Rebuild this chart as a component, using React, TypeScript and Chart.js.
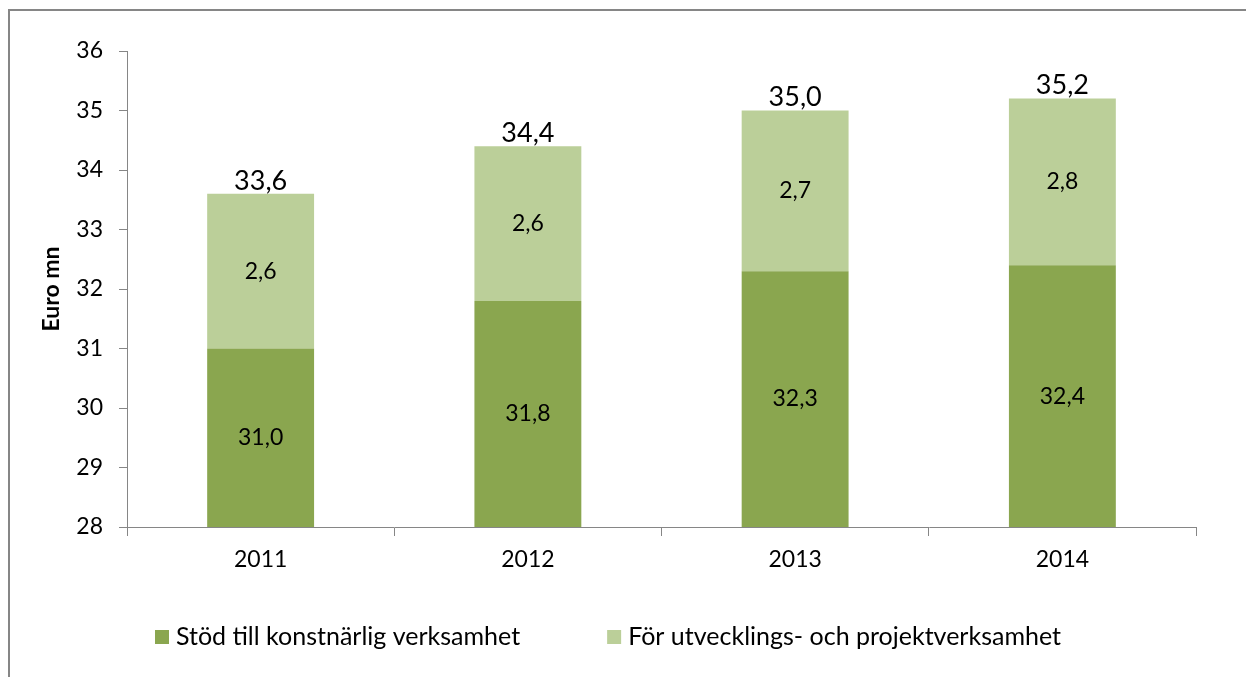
import React, { useEffect, useRef } from "react";
import { Chart, registerables } from "chart.js";

Chart.register(...registerables);

const categories = ["2011", "2012", "2013", "2014"];
const seriesNames = ["Stöd till konstnärlig verksamhet", "För utvecklings- och projektverksamhet"];
const stodValues = [31.0, 31.8, 32.3, 32.4];
const utvValues = [2.6, 2.6, 2.7, 2.8];
const yMin = 28;
const yMax = 36;
const yStep = 1;
const yTitle = "Euro mn";

const DARK = "#8aa64f";
const LIGHT = "#bbcf99";
const AXIS = "#868686";
const FONT = "Lato, 'Open Sans', sans-serif";

const fmt = (v: number) => v.toFixed(1).replace(".", ",");

const labelPlugin = {
  id: "labels",
  beforeDraw(chart: any) {
    const ctx = chart.ctx;
    ctx.save();
    ctx.strokeStyle = AXIS;
    ctx.lineWidth = 2;
    ctx.beginPath();
    ctx.moveTo(9, chart.height);
    ctx.lineTo(9, 10);
    ctx.lineTo(chart.width, 10);
    ctx.stroke();
    ctx.restore();
  },
  afterDatasetsDraw(chart: any) {
    const ctx = chart.ctx;
    const area = chart.chartArea;
    ctx.save();
    ctx.fillStyle = "#000";
    ctx.textAlign = "center";
    ctx.textBaseline = "middle";
    ctx.font = `23px ${FONT}`;
    chart.data.datasets.forEach((ds: any, di: number) => {
      const meta = chart.getDatasetMeta(di);
      meta.data.forEach((bar: any, i: number) => {
        const top = Math.max(bar.y, area.top);
        const bottom = Math.min(bar.base, area.bottom);
        ctx.fillText(fmt(ds.data[i]), bar.x, (top + bottom) / 2);
      });
    });
    // totals
    ctx.font = `27px ${FONT}`;
    const last = chart.getDatasetMeta(chart.data.datasets.length - 1);
    categories.forEach((_, i) => {
      const total = chart.data.datasets.reduce((s: number, ds: any) => s + ds.data[i], 0);
      const bar = last.data[i];
      ctx.fillText(fmt(total), bar.x, bar.y - 13);
    });
    // legend
    ctx.font = `25px ${FONT}`;
    ctx.textAlign = "left";
    const box = 14;
    const boxGap = 7;
    const itemGap = 87;
    const widths = chart.data.datasets.map((ds: any) => box + boxGap + ctx.measureText(ds.label).width);
    const total = widths.reduce((a: number, b: number) => a + b, 0) + itemGap * (widths.length - 1);
    let x = 608 - total / 2;
    const cy = 637;
    chart.data.datasets.forEach((ds: any, di: number) => {
      ctx.fillStyle = ds.backgroundColor;
      ctx.fillRect(x, cy - box / 2, box, box);
      ctx.fillStyle = "#000";
      ctx.fillText(ds.label, x + box + boxGap, cy);
      x += widths[di] + itemGap;
    });
    ctx.restore();
  },
};

export default function App() {
  const ref = useRef<HTMLCanvasElement | null>(null);
  useEffect(() => {
    if (!ref.current) return;
    const chart = new Chart(ref.current, {
      type: "bar",
      data: {
        labels: categories,
        datasets: [
          { label: seriesNames[0], data: stodValues, backgroundColor: DARK, barPercentage: 0.4, categoryPercentage: 1 },
          { label: seriesNames[1], data: utvValues, backgroundColor: LIGHT, barPercentage: 0.4, categoryPercentage: 1 },
        ],
      },
      options: {
        animation: false,
        responsive: false,
        layout: { padding: { left: 0, right: 50, top: 51, bottom: 100 } },
        plugins: { legend: { display: false }, tooltip: { enabled: false } },
        scales: {
          x: {
            stacked: true,
            grid: { drawOnChartArea: false, drawTicks: true, tickLength: 9, color: AXIS, offset: true },
            border: { color: AXIS, width: 1 },
            ticks: { color: "#000", font: { family: FONT, size: 23 }, padding: 10, autoSkip: false, maxRotation: 0 },
            afterFit: (s: any) => { s.height = 50; },
          },
          y: {
            stacked: true,
            min: yMin,
            max: yMax,
            grid: { drawOnChartArea: false, drawTicks: true, tickLength: 8, color: AXIS },
            border: { color: AXIS, width: 1 },
            ticks: { stepSize: yStep, color: "#000", font: { family: FONT, size: 23 }, padding: 16 },
            title: { display: true, text: yTitle, color: "#000", font: { family: FONT, size: 23, weight: "bold" }, padding: { top: 38, bottom: 0 } },
            afterFit: (s: any) => { s.width = 127; },
          },
        },
      },
      plugins: [labelPlugin],
    });
    return () => chart.destroy();
  }, []);
  return (
    <div style={{ position: "absolute", left: 0, top: 0, width: 1246, height: 677, background: "#fff" }}>
      <canvas ref={ref} width={1246} height={677} />
    </div>
  );
}
